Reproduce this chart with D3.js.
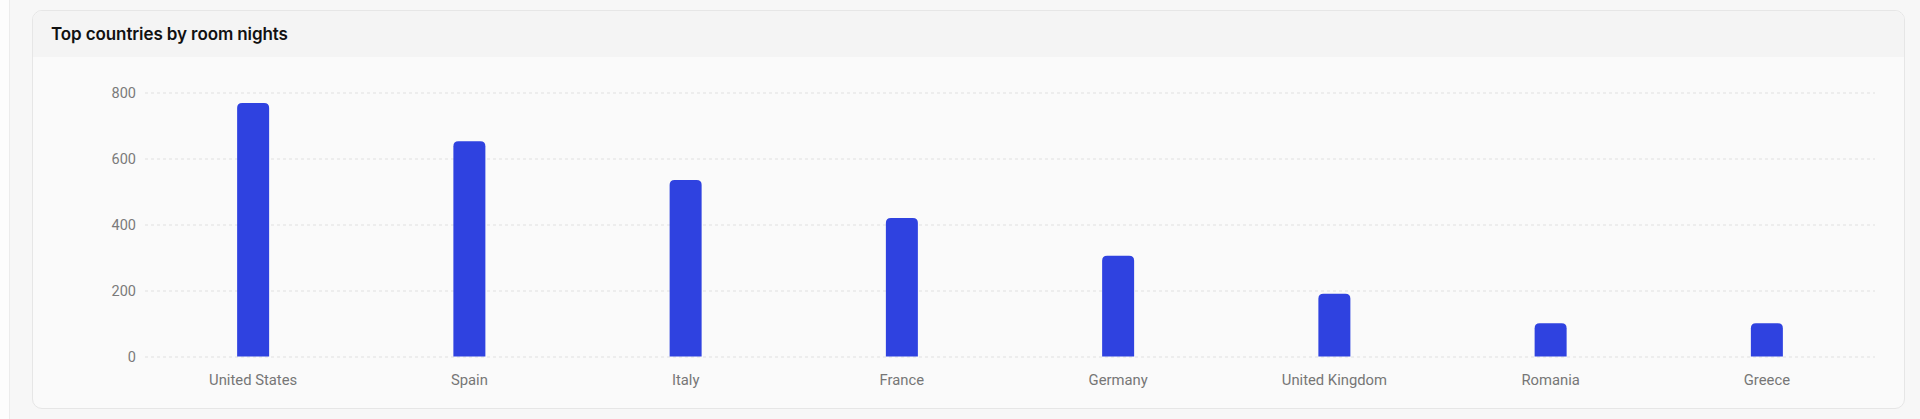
<!DOCTYPE html>
<html>
<head>
<meta charset="utf-8">
<script src="https://cdn.jsdelivr.net/npm/d3@7"></script>
<style>
  html, body { margin: 0; padding: 0; }
  body {
    width: 1920px; height: 419px; overflow: hidden;
    background: #f7f7f7; position: relative;
    font-family: Inter, "Noto Sans", sans-serif;
  }
  .side {
    position: absolute; left: 0; top: 0; width: 9px; height: 419px;
    background: #fdfdfd; border-right: 1px solid #ececec;
  }
  .card {
    position: absolute; left: 32px; top: 10px; width: 1871px; height: 397px;
    background: #fafafa; border: 1px solid #e6e6e6; border-radius: 10px;
    overflow: hidden;
  }
  .card-head {
    height: 46px; background: #f4f4f4;
  }
  .card-head h3 {
    margin: 0; padding: 0 0 0 18px; line-height: 33px; padding-top: 7px;
    font-size: 17px; font-weight: 600; color: #111; letter-spacing: -0.1px;
  }
  svg { position: absolute; left: 0; top: 0; }
</style>
</head>
<body>
<div class="side"></div>
<div class="card"><div class="card-head"><h3>Top countries by room nights</h3></div></div>
<svg id="chart"></svg>
<script>
const countries = ['United States', 'Spain', 'Italy', 'France', 'Germany', 'United Kingdom', 'Romania', 'Greece']
const roomNights = [768, 652, 535, 420, 305, 190, 101, 101]
const yTicks = [0, 200, 400, 600, 800]

const width = 1920
const height = 419
const margin = { left: 145, right: 45, top: 92.5, bottom: 62.5 }

const svg = d3.select('#chart')
  .attr('width', width)
  .attr('height', height)

// scales
const xScale = d3.scaleBand()
  .domain(countries)
  .range([margin.left, width - margin.right])
  .padding(0)

const yScale = d3.scaleLinear()
  .domain([0, 800])
  .range([height - margin.bottom, margin.top])

// grid lines
svg.append('g')
  .attr('transform', `translate(${margin.left},0)`)
  .call(d3.axisLeft(yScale).tickValues(yTicks).tickSize(-(width - margin.left - margin.right)).tickFormat(''))
  .call(g => g.select('.domain').remove())
  .call(g => g.selectAll('line')
    .attr('stroke', '#e0e0e0')
    .attr('stroke-dasharray', '3 3'))

// y axis labels
svg.append('g')
  .attr('transform', `translate(${margin.left},0)`)
  .call(d3.axisLeft(yScale).tickValues(yTicks).tickSize(0).tickPadding(9))
  .call(g => g.select('.domain').remove())
  .call(g => g.selectAll('text')
    .attr('fill', '#7a7a7a')
    .style('font-size', '14.5px')
    .style('font-family', 'Roboto, sans-serif'))

// x axis labels
svg.append('g')
  .attr('transform', `translate(0,${height - margin.bottom})`)
  .call(d3.axisBottom(xScale).tickSize(0).tickPadding(18))
  .call(g => g.select('.domain').remove())
  .call(g => g.selectAll('text')
    .attr('fill', '#767676')
    .style('font-size', '14.8px')
    .style('font-family', 'Roboto, sans-serif'))

// bars with rounded top corners
const barWidth = 32
const r = 5
function barPath(d, i) {
  const x0 = xScale(countries[i]) + xScale.bandwidth() / 2 - barWidth / 2
  const x1 = x0 + barWidth
  const y0 = yScale(0)
  const y1 = yScale(d)
  return `M${x0},${y0}V${y1 + r}Q${x0},${y1} ${x0 + r},${y1}H${x1 - r}Q${x1},${y1} ${x1},${y1 + r}V${y0}Z`
}

svg.append('g')
  .selectAll('path')
  .data(roomNights)
  .join('path')
  .attr('d', barPath)
  .style('fill', '#2f42e0')
</script>
</body>
</html>
